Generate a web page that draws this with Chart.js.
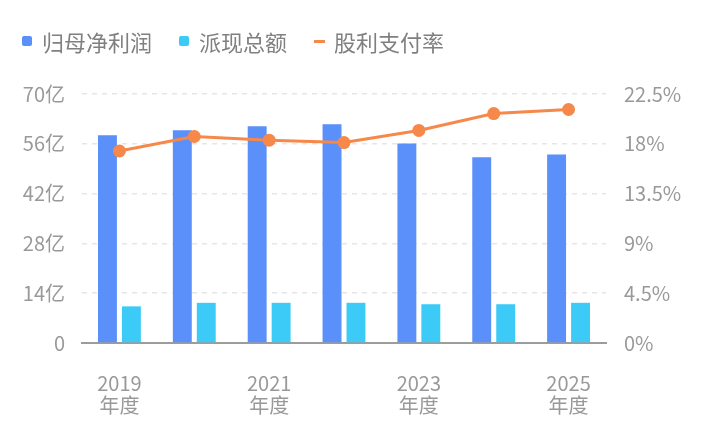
<!DOCTYPE html>
<html>
<head>
<meta charset="utf-8">
<script src="https://cdn.jsdelivr.net/npm/chart.js@4/dist/chart.umd.min.js"></script>
<style>
  html, body { margin:0; padding:0; background:#fff; }
  #wrap { position:relative; width:705px; height:426px; }
  #legend { position:absolute; left:22px; top:26px; display:flex; align-items:center; line-height:30px;
    font-family:"Noto Sans CJK SC","Noto Sans",sans-serif; font-size:22px; color:#808080; }
  .item { display:flex; align-items:center; margin-right:27px; }
  .sq { width:10px; height:10px; border-radius:2px; margin-right:10px; }
  .dash { width:11px; height:3px; margin-right:9px; }
</style>
</head>
<body>
<div id="wrap">
  <div id="legend"></div>
  <canvas id="c" width="705" height="426"></canvas>
</div>
<script>
// data (亿 / %)
const years = ['2019','2020','2021','2022','2023','2024','2025'];
const netProfit = [58.4, 59.8, 60.9, 61.5, 56.1, 52.2, 53.0];
const dividend = [10.3, 11.3, 11.3, 11.3, 10.9, 10.9, 11.3];
const payoutRatio = [17.35, 18.66, 18.33, 18.11, 19.21, 20.73, 21.1];
const leftTicks = [0, 14, 28, 42, 56, 70];
const rightTicks = [0, 4.5, 9, 13.5, 18, 22.5];

const BLUE = '#5b8ff9', CYAN = '#3ccbf7', ORANGE = '#f6884a';
const FONT = '"Noto Sans CJK SC","Noto Sans",sans-serif';

// html legend
(function(){
  const items = [
    { label:'归母净利润', color:BLUE, cls:'sq' },
    { label:'派现总额', color:CYAN, cls:'sq' },
    { label:'股利支付率', color:ORANGE, cls:'dash' }
  ];
  const el = document.getElementById('legend');
  items.forEach(it => {
    const d = document.createElement('div');
    d.className = 'item';
    d.innerHTML = `<span class="${it.cls}" style="background:${it.color}"></span><span>${it.label}</span>`;
    el.appendChild(d);
  });
})();

const gridColor = ctx => (ctx.tick && ctx.tick.value === 0) ? 'rgba(0,0,0,0)' : '#e6e6e6';

new Chart(document.getElementById('c').getContext('2d'), {
  type: 'bar',
  data: {
    labels: years,
    datasets: [
      { type:'line', label:'股利支付率', data: payoutRatio, yAxisID:'y1', order:0,
        borderColor:ORANGE, backgroundColor:ORANGE, borderWidth:3,
        pointRadius:6.5, pointHoverRadius:6.5, pointBackgroundColor:ORANGE, pointBorderWidth:0, tension:0 },
      { label:'归母净利润', data: netProfit, yAxisID:'y', order:1, backgroundColor:BLUE,
        categoryPercentage:0.64, barPercentage:0.79 },
      { label:'派现总额', data: dividend, yAxisID:'y', order:1, backgroundColor:CYAN,
        categoryPercentage:0.64, barPercentage:0.79 }
    ]
  },
  options: {
    responsive:false,
    animation:false,
    layout: { padding: { top: 94, bottom: 0, left: 0, right: 0 } },
    plugins: { legend: { display:false }, tooltip: { enabled:false } },
    scales: {
      x: {
        z: 1,
        grid: { display:false },
        border: { display:true, color:'#9c9c9c', width:2, dash:[4,3] },
        ticks: {
          autoSkip:false, maxRotation:0, padding:21, color:'#999',
          font: { family:FONT, size:20, lineHeight:1.12 },
          callback: (v, i) => i % 2 === 0 ? [years[i], '年度'] : ''
        },
        afterFit: s => { s.height = 83; }
      },
      y: {
        position:'left', min:0, max:70,
        afterBuildTicks: s => { s.ticks = leftTicks.map(v => ({ value:v })); },
        grid: { color:gridColor, lineWidth:1.5, drawTicks:false },
        border: { display:false, dash:[5,5] },
        ticks: { padding:17, color:'#999', font:{ family:FONT, size:20 },
          callback: v => v === 0 ? '0' : v + '亿' },
        afterFit: s => { s.width = 82; }
      },
      y1: {
        position:'right', min:0, max:22.5,
        afterBuildTicks: s => { s.ticks = rightTicks.map(v => ({ value:v })); },
        grid: { display:false, drawTicks:false },
        border: { display:false },
        ticks: { padding:18, color:'#999', font:{ family:FONT, size:20 },
          callback: v => v + '%' },
        afterFit: s => { s.width = 99; }
      }
    }
  }
});
</script>
</body>
</html>
